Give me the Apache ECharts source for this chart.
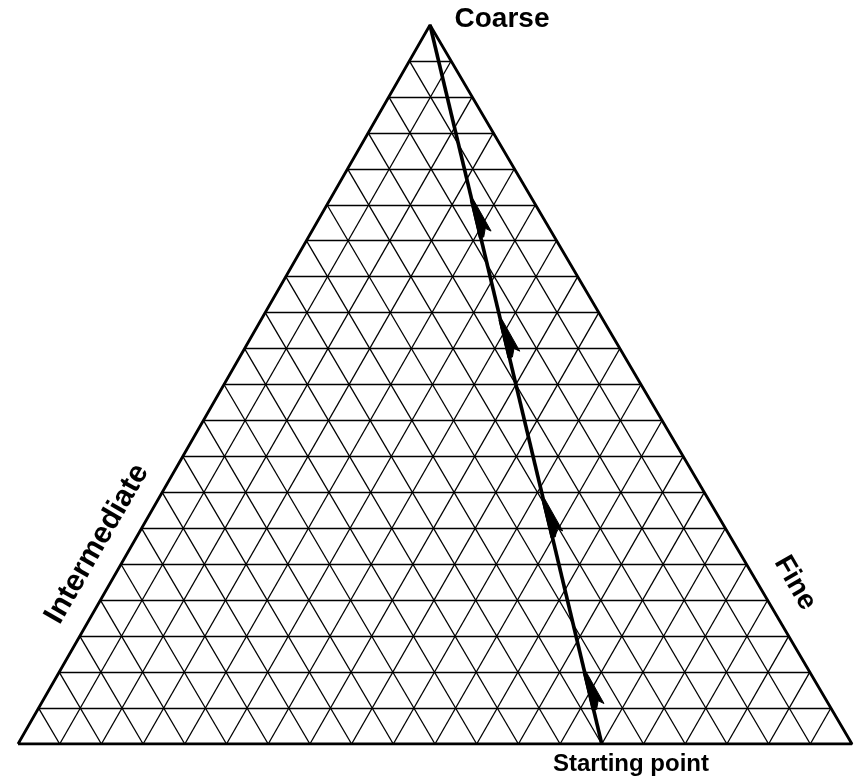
<!DOCTYPE html>
<html>
<head>
<meta charset="utf-8">
<script src="https://cdn.jsdelivr.net/npm/echarts@6/dist/echarts.min.js"></script>
<style>
  html, body { margin: 0; padding: 0; background: #fff; }
  #ternary { width: 858px; height: 779px; }
</style>
</head>
<body>
<div id="ternary"></div>
<script>
// Ternary diagram: Coarse / Intermediate / Fine, path from starting point to the Coarse apex
var divisions = 20;
var cornerLabels = ['Coarse', 'Intermediate', 'Fine'];
var startLabel = 'Starting point';
// barycentric weights [bottom-left, bottom-right, apex]
var pathStart = [0.3, 0.7, 0];
var pathEnd = [0, 0, 1];
// fraction along the path where each arrow tip sits
var arrowTips = [0.10, 0.34, 0.59, 0.757];
// apex sits slightly left of centre in the scan (fraction of base)
var apexX = 0.494;

var dom = document.getElementById('ternary');
var myChart = echarts.init(dom, null, { renderer: 'canvas' });

function toXY(w) {
    return [w[1] + w[2] * apexX, w[2]];
}

// grid lines of the triangle
var gridLines = [];
for (var k = 1; k < divisions; k++) {
    var f = k / divisions;
    gridLines.push({ coords: [toXY([1 - f, 0, f]), toXY([0, 1 - f, f])] });
    gridLines.push({ coords: [toXY([f, 1 - f, 0]), toXY([f, 0, 1 - f])] });
    gridLines.push({ coords: [toXY([1 - f, f, 0]), toXY([0, f, 1 - f])] });
}

var outline = [toXY([1, 0, 0]), toXY([0, 1, 0]), toXY([0, 0, 1]), toXY([1, 0, 0])];

var p0 = toXY(pathStart);
var p1 = toXY(pathEnd);
var arrowData = arrowTips.map(function (t) {
    return [p0[0] + (p1[0] - p0[0]) * t, p0[1] + (p1[1] - p0[1]) * t];
});

var labelFont = 'bold 28px "Liberation Sans", Arial';

var option = {
    animation: false,
    grid: { left: 18, right: 6, top: 25, bottom: 35 },
    xAxis: { type: 'value', min: 0, max: 1, show: false },
    yAxis: { type: 'value', min: 0, max: 1, show: false },
    series: [
        {
            type: 'lines',
            coordinateSystem: 'cartesian2d',
            silent: true,
            lineStyle: { color: '#000', width: 1.3, opacity: 1 },
            data: gridLines
        },
        {
            type: 'line',
            silent: true,
            symbol: 'none',
            lineStyle: { color: '#000', width: 2.8 },
            data: outline
        },
        {
            type: 'line',
            silent: true,
            symbol: 'none',
            lineStyle: { color: '#000', width: 3.6 },
            data: [p0, p1]
        },
        {
            type: 'custom',
            silent: true,
            clip: false,
            data: arrowData,
            renderItem: function (params, api) {
                var tip = api.coord([api.value(0), api.value(1)]);
                var a = api.coord(p0), b = api.coord(p1);
                var len = Math.sqrt((b[0] - a[0]) * (b[0] - a[0]) + (b[1] - a[1]) * (b[1] - a[1]));
                var d = [(b[0] - a[0]) / len, (b[1] - a[1]) / len];
                var n = [-d[1], d[0]];
                function pt(back, side) {
                    return [tip[0] - d[0] * back + n[0] * side, tip[1] - d[1] * back + n[1] * side];
                }
                return {
                    type: 'polygon',
                    shape: { points: [pt(0, -1.5), pt(0, 1.5), pt(35, 11.5), pt(31, 6.5), pt(39, 3), pt(39, -1.5)] },
                    style: { fill: '#000', stroke: '#000', lineWidth: 1 }
                };
            }
        }
    ],
    graphic: [
        {
            type: 'text', x: 502, y: 19,
            style: { text: cornerLabels[0], font: labelFont, fill: '#000', align: 'center', verticalAlign: 'middle' }
        },
        {
            type: 'text', x: 97, y: 544, rotation: Math.PI / 3,
            style: { text: cornerLabels[1], font: 'bold 30px "Liberation Sans", Arial', fill: '#000', align: 'center', verticalAlign: 'middle' }
        },
        {
            type: 'text', x: 795, y: 583, rotation: -Math.PI / 3,
            style: { text: cornerLabels[2], font: labelFont, fill: '#000', align: 'center', verticalAlign: 'middle' }
        },
        {
            type: 'text', x: 631, y: 764,
            style: { text: startLabel, font: 'bold 24px "Liberation Sans", Arial', fill: '#000', align: 'center', verticalAlign: 'middle' }
        }
    ]
};

if (option && typeof option === 'object') {
    myChart.setOption(option);
}
</script>
</body>
</html>
